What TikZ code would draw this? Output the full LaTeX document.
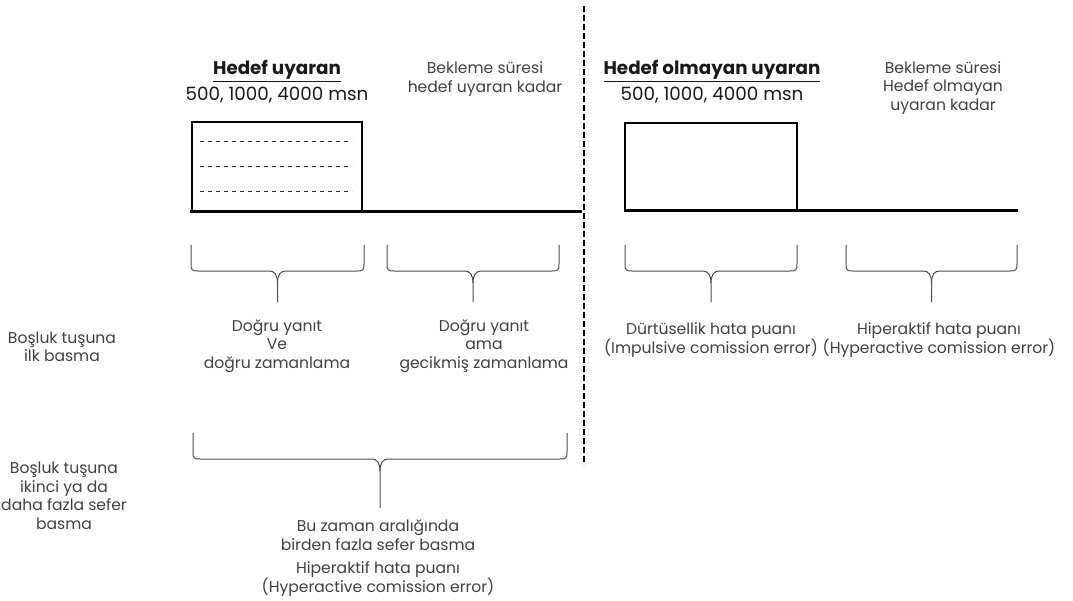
\documentclass[tikz,border=0pt]{standalone}
\usepackage{fontspec}
\setmainfont{Poppins}
\begin{document}
\begin{tikzpicture}[x=1pt,y=-1pt,
  txt/.style={font=\fontsize{15.6}{18.5}\selectfont, text=black!75, align=center, inner sep=0pt},
  ttl/.style={font=\fontsize{18.3}{20}\selectfont, text=black!90, align=center, inner sep=0pt},
  box/.style={draw=black, line width=2pt},
  tline/.style={draw=black, line width=3pt},
  brc/.style={draw=black!70, line width=1pt},
  inner/.style={draw=black!85, line width=0.8pt, dash pattern=on 4pt off 4pt}
]
\useasboundingbox (0,0) rectangle (1073,600);
\tikzset{pics/curly/.style n args={4}{code={%
  \pgfmathsetmacro{\xc}{(#1+#2)/2}
  \pgfmathsetmacro{\hh}{#3+26}
  \draw[brc] (#1,#3) -- (#1,\hh-7) .. controls (#1,\hh-1) and (#1+1,\hh) .. (#1+7,\hh)
     -- (\xc-8,\hh) .. controls (\xc-3,\hh) and (\xc,\hh+4) .. (\xc,\hh+12) -- (\xc,#4);
  \draw[brc] (#2,#3) -- (#2,\hh-7) .. controls (#2,\hh-1) and (#2-1,\hh) .. (#2-7,\hh)
     -- (\xc+8,\hh) .. controls (\xc+3,\hh) and (\xc,\hh+4) .. (\xc,\hh+12);
}}}

% dashed separator
\coordinate (sepT) at (584,6);
\coordinate (sepB) at (584,465);
\draw[black, line width=2pt, dash pattern=on 6pt off 3pt] (sepT) -- (sepB);

% left stimulus
\coordinate (lbA) at (192,122);
\coordinate (lbB) at (362,211);
\draw[box] (lbA) rectangle (lbB);
\foreach \yy in {141,166,191} \draw[inner] (200,\yy) -- (352,\yy);
\coordinate (ltS) at (190,211);
\coordinate (ltE) at (582,211);
\draw[tline] (ltS) -- (ltE);

% right stimulus
\coordinate (rbA) at (625,123);
\coordinate (rbB) at (797,210);
\draw[box] (rbA) rectangle (rbB);
\coordinate (rtS) at (624,210);
\coordinate (rtE) at (1018,210);
\draw[tline] (rtS) -- (rtE);

% titles
\node[ttl] (t1) at (277,71) {\textbf{\underline{Hedef uyaran}}};
\node[ttl] (t1b) at (277,95) {500, 1000, 4000 msn};
\node[txt] (w1) at (485,79) {Bekleme süresi\\hedef uyaran kadar};
\node[ttl] (t2) at (712,71) {\textbf{\underline{Hedef olmayan uyaran}}};
\node[ttl] (t2b) at (712,95) {500, 1000, 4000 msn};
\node[txt] (w2) at (943,88) {Bekleme süresi\\Hedef olmayan\\uyaran kadar};

% braces
\pic {curly={191}{364}{245}{302}};
\pic {curly={387}{559}{245}{302}};
\pic {curly={625}{797}{245}{302}};
\pic {curly={846}{1017}{245}{302}};
\pic {curly={193}{567}{433}{508}};

% labels
\node[txt] (a1) at (277,346) {Doğru yanıt\\Ve\\doğru zamanlama};
\node[txt] (a2) at (484,346) {Doğru yanıt\\ama\\gecikmiş zamanlama};
\node[txt] (a3) at (711,340) {Dürtüsellik hata puanı\\(Impulsive comission error)};
\node[txt] (a4) at (939,340) {Hiperaktif hata puanı\\(Hyperactive comission error)};
\node[txt] (l1) at (62,347) {Boşluk tuşuna\\ilk basma};
\node[txt] (l2) at (64,496) {Boşluk tuşuna\\ikinci ya da\\daha fazla sefer\\basma};
\node[txt] (b1) at (378,535) {Bu zaman aralığında\\birden fazla sefer basma};
\node[txt] (b2) at (378,579) {Hiperaktif hata puanı\\(Hyperactive comission error)};
\end{tikzpicture}
\end{document}
